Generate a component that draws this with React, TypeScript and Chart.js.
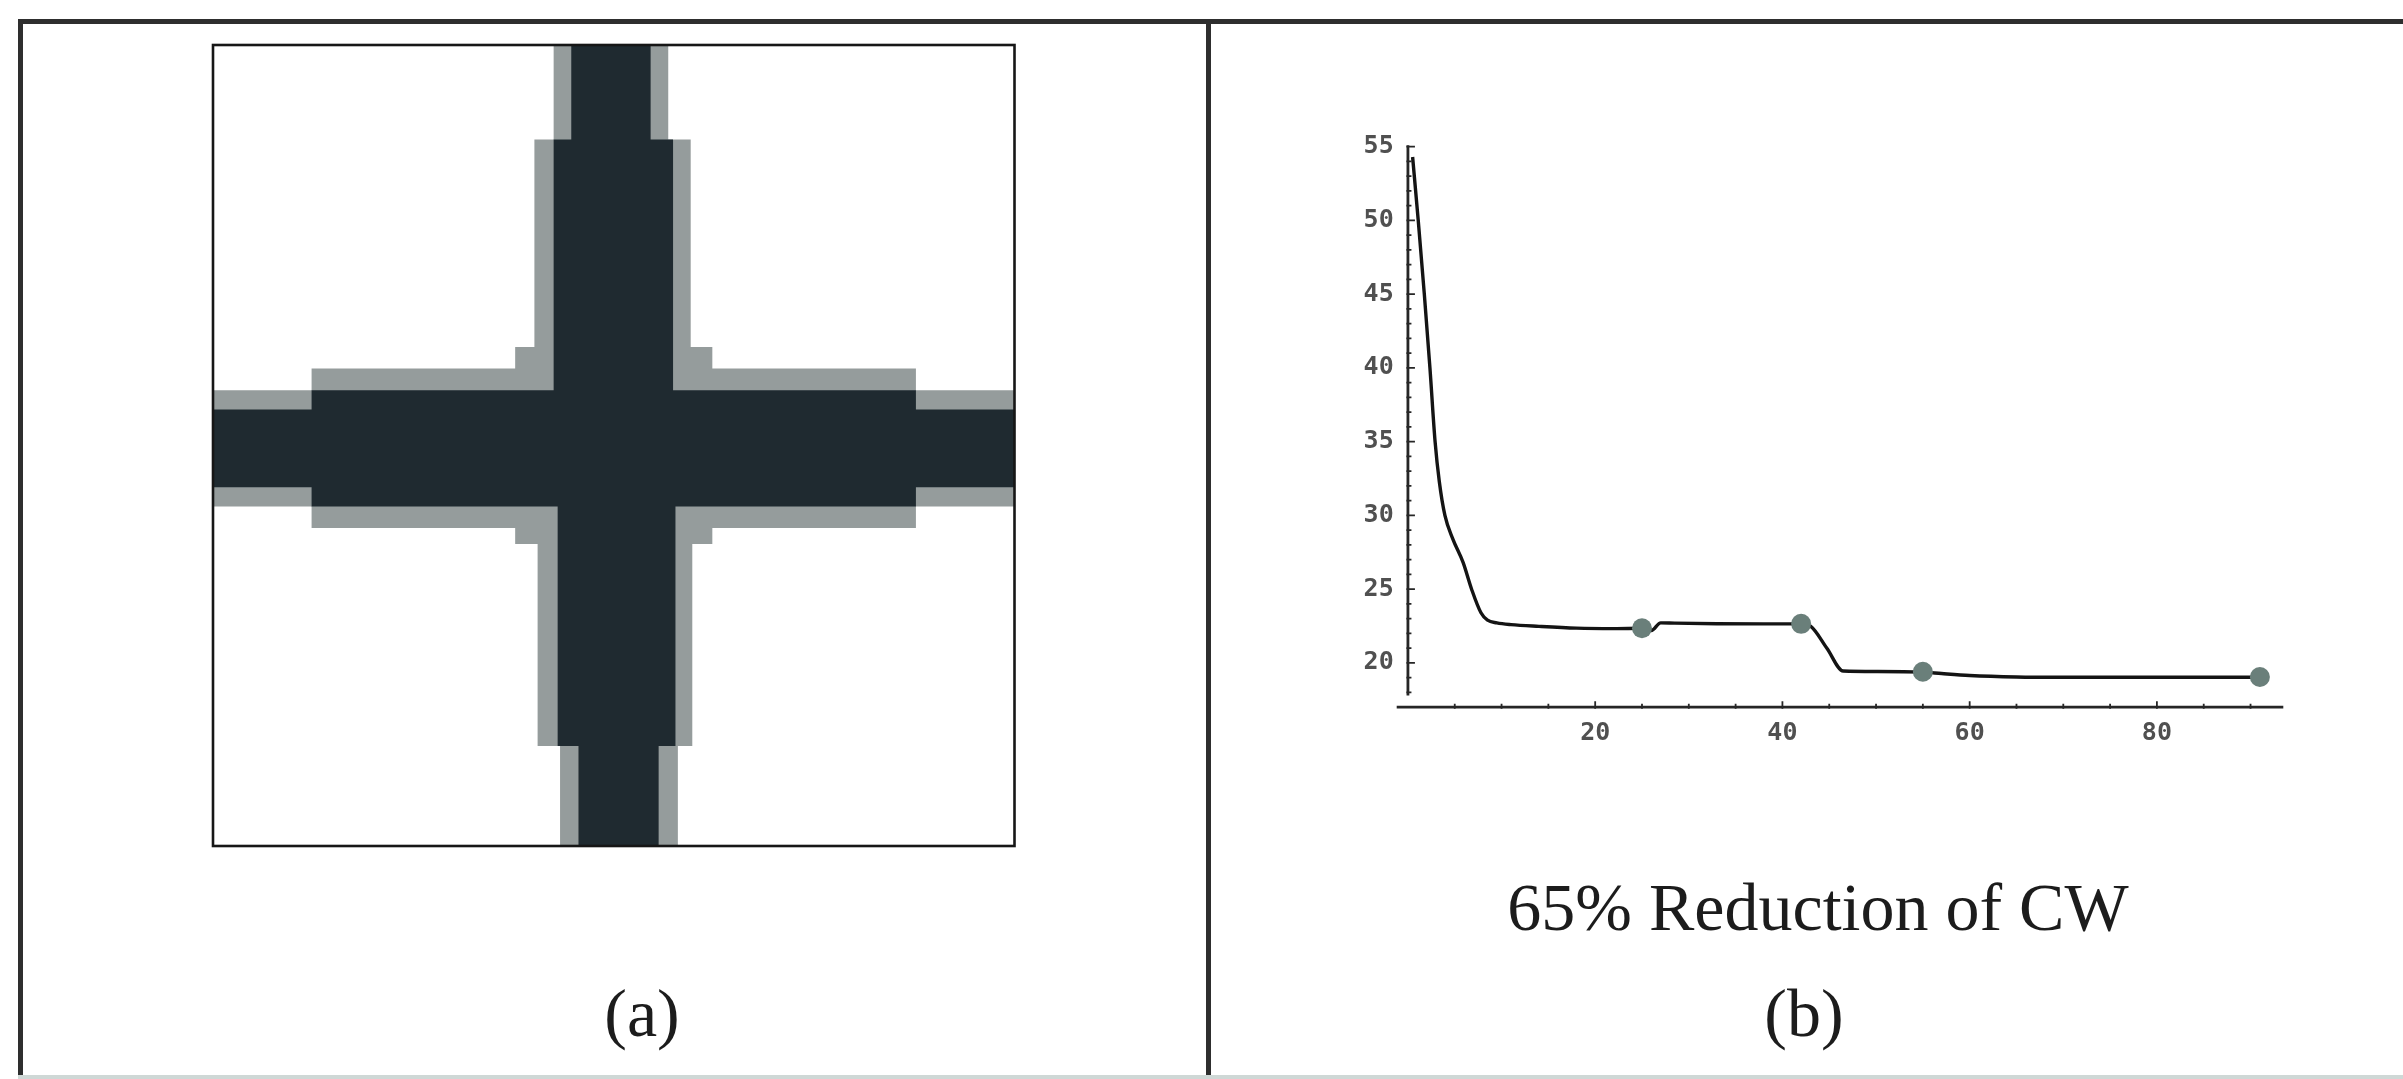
import React, { useEffect, useRef } from "react";
import { Chart, registerables } from "chart.js";

Chart.register(...registerables);

// ---------- Panel (b): line chart data ----------
const curveX = [0.5, 1.1, 1.75, 2.35, 2.9, 3.35, 3.95, 4.8, 5.9, 6.8, 7.8, 8.5, 9.5, 11, 14, 18, 22, 25, 26, 27, 28.5, 33, 38, 42, 43, 44.75, 46.5, 50, 55, 57, 60, 65, 70, 80, 91];
const curveY = [54.3, 50, 45, 40, 35, 32.3, 30, 28.4, 26.8, 25, 23.4, 22.9, 22.72, 22.6, 22.48, 22.36, 22.33, 22.35, 22.2, 22.72, 22.7, 22.66, 22.65, 22.65, 22.5, 21.0, 19.45, 19.42, 19.38, 19.28, 19.15, 19.05, 19.03, 19.03, 19.03];
const markerX = [25, 42, 55, 91];
const markerY = [22.35, 22.65, 19.4, 19.05];
const xTickValues = [20, 40, 60, 80];
const yTickValues = [20, 25, 30, 35, 40, 45, 50, 55];
const xMinorStep = 5;
const yMinorStep = 1;
const xRange = [-1.2, 93.5];
const yRange = [17.0, 55.2];
const yAxisExtent = [17.8, 55.1];
const titleText = "65% Reduction of CW";
const panelLabels = ["(a)", "(b)"];

// ---------- Panel (a): cross image, outlines of grey levels (image units 0-100) ----------
const haloX = [42.5, 56.8, 56.8, 59.6, 59.6, 62.3, 62.3, 87.7, 87.7, 100, 100, 87.7, 87.7, 62.3, 62.3, 59.8, 59.8, 58, 58, 43.3, 43.3, 40.5, 40.5, 37.7, 37.7, 12.3, 12.3, 0, 0, 12.3, 12.3, 37.7, 37.7, 40.1, 40.1, 42.5, 42.5];
const haloY = [0, 0, 11.8, 11.8, 37.7, 37.7, 40.4, 40.4, 43.1, 43.1, 57.6, 57.6, 60.3, 60.3, 62.3, 62.3, 87.5, 87.5, 100, 100, 87.5, 87.5, 62.3, 62.3, 60.3, 60.3, 57.6, 57.6, 43.1, 43.1, 40.4, 40.4, 37.7, 37.7, 11.8, 11.8, 0];
const coreX = [44.7, 54.6, 54.6, 57.4, 57.4, 87.7, 87.7, 100, 100, 87.7, 87.7, 57.7, 57.7, 55.6, 55.6, 45.6, 45.6, 43, 43, 12.3, 12.3, 0, 0, 12.3, 12.3, 42.5, 42.5, 44.7, 44.7];
const coreY = [0, 0, 11.8, 11.8, 43.1, 43.1, 45.5, 45.5, 55.2, 55.2, 57.6, 57.6, 87.5, 87.5, 100, 100, 87.5, 87.5, 57.6, 57.6, 55.2, 55.2, 45.5, 45.5, 43.1, 43.1, 11.8, 11.8, 0];

const zip = (xs: number[], ys: number[]) => xs.map((x, i) => ({ x, y: ys[i] }));

const mmaAxesPlugin = {
  id: "mmaAxes",
  beforeDatasetsDraw(chart: any) {
    const { ctx } = chart;
    const xs = chart.scales.x;
    const ys = chart.scales.y;
    const x0 = xs.getPixelForValue(0);
    const yb = ys.getPixelForValue(yRange[0]);
    ctx.save();
    ctx.strokeStyle = "#262626";
    ctx.lineCap = "butt";
    ctx.lineWidth = 2.8;
    ctx.beginPath();
    ctx.moveTo(x0, ys.getPixelForValue(yAxisExtent[0]));
    ctx.lineTo(x0, ys.getPixelForValue(yAxisExtent[1]));
    ctx.stroke();
    ctx.beginPath();
    ctx.moveTo(xs.getPixelForValue(xRange[0]), yb);
    ctx.lineTo(xs.getPixelForValue(xRange[1]), yb);
    ctx.stroke();
    ctx.lineWidth = 1.8;
    ctx.beginPath();
    for (let v = Math.ceil(yAxisExtent[0]); v <= yAxisExtent[1]; v += yMinorStep) {
      const major = yTickValues.includes(v);
      const py = ys.getPixelForValue(v);
      ctx.moveTo(x0 - 1.5, py);
      ctx.lineTo(x0 + (major ? 7 : 3.5), py);
    }
    ctx.stroke();
    ctx.beginPath();
    for (let v = xMinorStep; v <= xRange[1]; v += xMinorStep) {
      const major = xTickValues.includes(v);
      const px = xs.getPixelForValue(v);
      ctx.moveTo(px, yb + 1.5);
      ctx.lineTo(px, yb - (major ? 6 : 3.5));
    }
    ctx.stroke();
    ctx.restore();
  },
};

const frameBoxPlugin = {
  id: "frameBox",
  afterDraw(chart: any) {
    const { ctx, chartArea: a } = chart;
    ctx.save();
    ctx.strokeStyle = "#161616";
    ctx.lineWidth = 2.6;
    ctx.strokeRect(a.left, a.top, a.right - a.left, a.bottom - a.top);
    ctx.restore();
  },
};

function CrossChart() {
  const ref = useRef<HTMLCanvasElement>(null);
  useEffect(() => {
    const chart = new Chart(ref.current as HTMLCanvasElement, {
      type: "line",
      data: {
        datasets: [
          {
            data: zip(coreX, coreY),
            fill: "shape",
            backgroundColor: "#1f2a30",
            borderWidth: 0,
            pointRadius: 0,
            tension: 0,
          } as any,
          {
            data: zip(haloX, haloY),
            fill: "shape",
            backgroundColor: "#959c9c",
            borderWidth: 0,
            pointRadius: 0,
            tension: 0,
          } as any,
        ],
      },
      options: {
        animation: false,
        responsive: false,
        devicePixelRatio: 1,
        layout: { padding: { left: 13, top: 15, right: 15.5, bottom: 44 } },
        plugins: { legend: { display: false }, tooltip: { enabled: false } },
        scales: {
          x: { type: "linear", min: 0, max: 100, display: false },
          y: { type: "linear", min: 0, max: 100, reverse: true, display: false },
        },
      } as any,
      plugins: [frameBoxPlugin],
    });
    return () => chart.destroy();
  }, []);
  return <canvas ref={ref} width={830} height={860} style={{ position: "absolute", left: 200, top: 30 }} />;
}

function CurveChart() {
  const ref = useRef<HTMLCanvasElement>(null);
  useEffect(() => {
    const tickFont = { family: "'DejaVu Sans Mono', 'Liberation Mono', monospace", size: 25, weight: "bold" };
    const chart = new Chart(ref.current as HTMLCanvasElement, {
      type: "line",
      data: {
        datasets: [
          {
            data: zip(markerX, markerY),
            showLine: false,
            pointRadius: 10,
            pointBackgroundColor: "#6a7f7a",
            pointBorderWidth: 0,
          } as any,
          {
            data: zip(curveX, curveY),
            borderColor: "#141414",
            borderWidth: 3.4,
            pointRadius: 0,
            fill: false,
            cubicInterpolationMode: "monotone",
          } as any,
        ],
      },
      options: {
        animation: false,
        responsive: false,
        devicePixelRatio: 1,
        layout: { padding: { left: 0, top: 23.75, right: 66.7, bottom: 0 } },
        plugins: { legend: { display: false }, tooltip: { enabled: false } },
        scales: {
          x: {
            type: "linear",
            min: xRange[0],
            max: xRange[1],
            grid: { display: false, drawTicks: false },
            border: { display: false },
            ticks: { font: tickFont, color: "#505050", padding: 11, maxRotation: 0, autoSkip: false },
            afterBuildTicks: (s: any) => {
              s.ticks = xTickValues.map((v) => ({ value: v }));
            },
            afterFit: (s: any) => {
              s.height = 52.8;
            },
          },
          y: {
            type: "linear",
            min: yRange[0],
            max: yRange[1],
            grid: { display: false, drawTicks: false },
            border: { display: false },
            ticks: { font: tickFont, color: "#505050", padding: 3, autoSkip: false },
            afterBuildTicks: (s: any) => {
              s.ticks = yTickValues.map((v) => ({ value: v }));
            },
            afterFit: (s: any) => {
              s.width = 96.7;
            },
          },
        },
      } as any,
      plugins: [mmaAxesPlugin],
    });
    return () => chart.destroy();
  }, []);
  return <canvas ref={ref} width={1050} height={640} style={{ position: "absolute", left: 1300, top: 120 }} />;
}

const lineStyle = (l: number, t: number, w: number, h: number, c = "#2e2e2e") =>
  ({ position: "absolute", left: l, top: t, width: w, height: h, background: c } as React.CSSProperties);

const serif = "'Liberation Serif', 'Times New Roman', serif";

export default function App() {
  return (
    <div style={{ position: "absolute", left: 0, top: 0, width: 2403, height: 1079, background: "#fff", overflow: "hidden" }}>
      <div style={lineStyle(18, 19, 2385, 5)} />
      <div style={lineStyle(18, 19, 5, 1060)} />
      <div style={lineStyle(1206, 19, 5, 1060)} />
      <div style={lineStyle(18, 1075, 2385, 4, "#cfd8d6")} />
      <CrossChart />
      <CurveChart />
      <div style={{ position: "absolute", left: 1318, top: 873, width: 1000, textAlign: "center", font: `68px/68px ${serif}`, color: "#1c1c1c", whiteSpace: "nowrap" }}>
        {titleText}
      </div>
      <div style={{ position: "absolute", left: 142, top: 979, width: 1000, textAlign: "center", font: `68px/68px ${serif}`, color: "#1c1c1c" }}>
        {panelLabels[0]}
      </div>
      <div style={{ position: "absolute", left: 1304, top: 979, width: 1000, textAlign: "center", font: `68px/68px ${serif}`, color: "#1c1c1c" }}>
        {panelLabels[1]}
      </div>
    </div>
  );
}
